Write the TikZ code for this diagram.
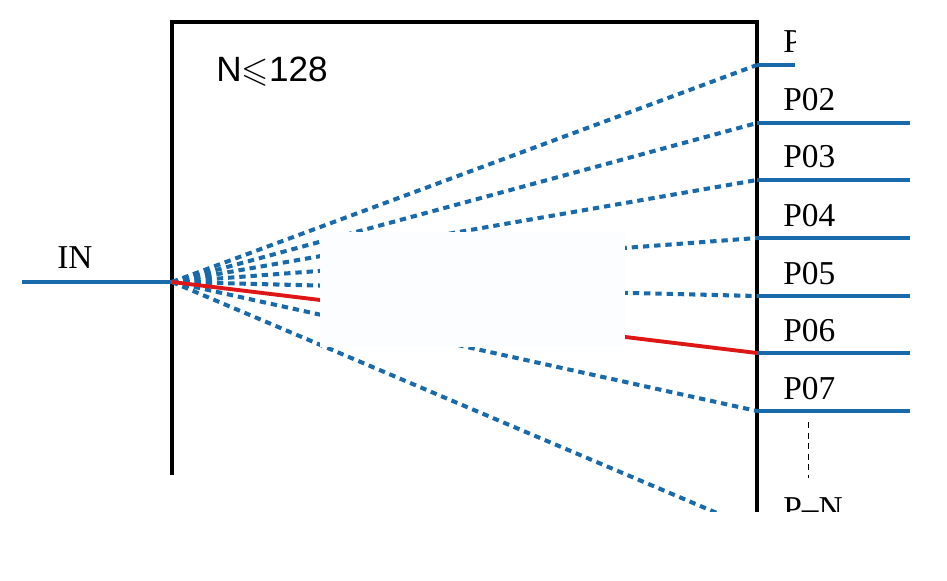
\documentclass[tikz,border=0pt]{standalone}
\usepackage{amssymb}
\usepackage{fontspec}
\setmainfont{Liberation Serif}
\newfontfamily\arialfont{Liberation Sans}
\definecolor{portblue}{RGB}{24,106,170}
\definecolor{pathred}{RGB}{222,22,22}
\definecolor{maskwhite}{RGB}{251,253,255}

\begin{document}
\begin{tikzpicture}[x=0.02cm,y=-0.02cm]%
  \tikzstyle{frame}=[draw=black,line width=2.3pt]
  \tikzstyle{wire}=[draw=portblue,line width=2.3pt]
  \tikzstyle{fan}=[draw=portblue,line width=2.3pt,dash pattern=on 3.6pt off 2.8pt]
  \tikzstyle{sel}=[draw=pathred,line width=2.2pt]
  \tikzstyle{lbl}=[inner sep=0,anchor=base west,font=\fontsize{19}{19}\selectfont]
  \useasboundingbox (0,0) rectangle (947,581);
  \coordinate (src) at (172,282);
  \coordinate (inend) at (22,282);
  \foreach \i/\y in {1/65,2/123,3/180,4/238,5/296,6/353,7/411,N/530}{
    \coordinate (p\i) at (757,\y);
    \coordinate (q\i) at (910,\y);
  }
  \coordinate (q1) at (795,65);
  \begin{scope}
    \clip (0,0) rectangle (947,511);
    \draw[frame] (172,475) -- (172,22) -- (757,22) -- (757,540);
    % fan of channels
    \foreach \i in {1,2,3,4,5,7,N}
      \draw[fan] (src) -- (p\i);
    \draw[sel] (src) -- (p6);
    \fill[maskwhite] (320,232) rectangle (625,347);
    \foreach \i in {1,...,7}
      \draw[wire] (p\i) -- (q\i);
    \draw[wire] (inend) -- (src);
    \node[lbl] (lN) at (783,519) {P--N};
  \end{scope}
  \begin{scope}
    \clip (0,0) rectangle (795,80);
    \node[lbl] (l1) at (783,53) {P01};
  \end{scope}
  \foreach \i/\y in {2/111,3/168,4/226,5/284,6/341,7/399}
    \node[lbl] (l\i) at (783,\y) {P0\i};
  \node[lbl] (lin) at (57,268) {IN};
  \node[inner sep=0,anchor=base west,font=\arialfont\fontsize{20}{20}\selectfont] (cap) at (216,82) {N\ensuremath{\leqslant}128};
  \coordinate (d1) at (808,422);
  \coordinate (d2) at (808,478);
  \draw[line width=0.5pt,dash pattern=on 3.5pt off 2.5pt] (d1) -- (d2);
\end{tikzpicture}
\end{document}
